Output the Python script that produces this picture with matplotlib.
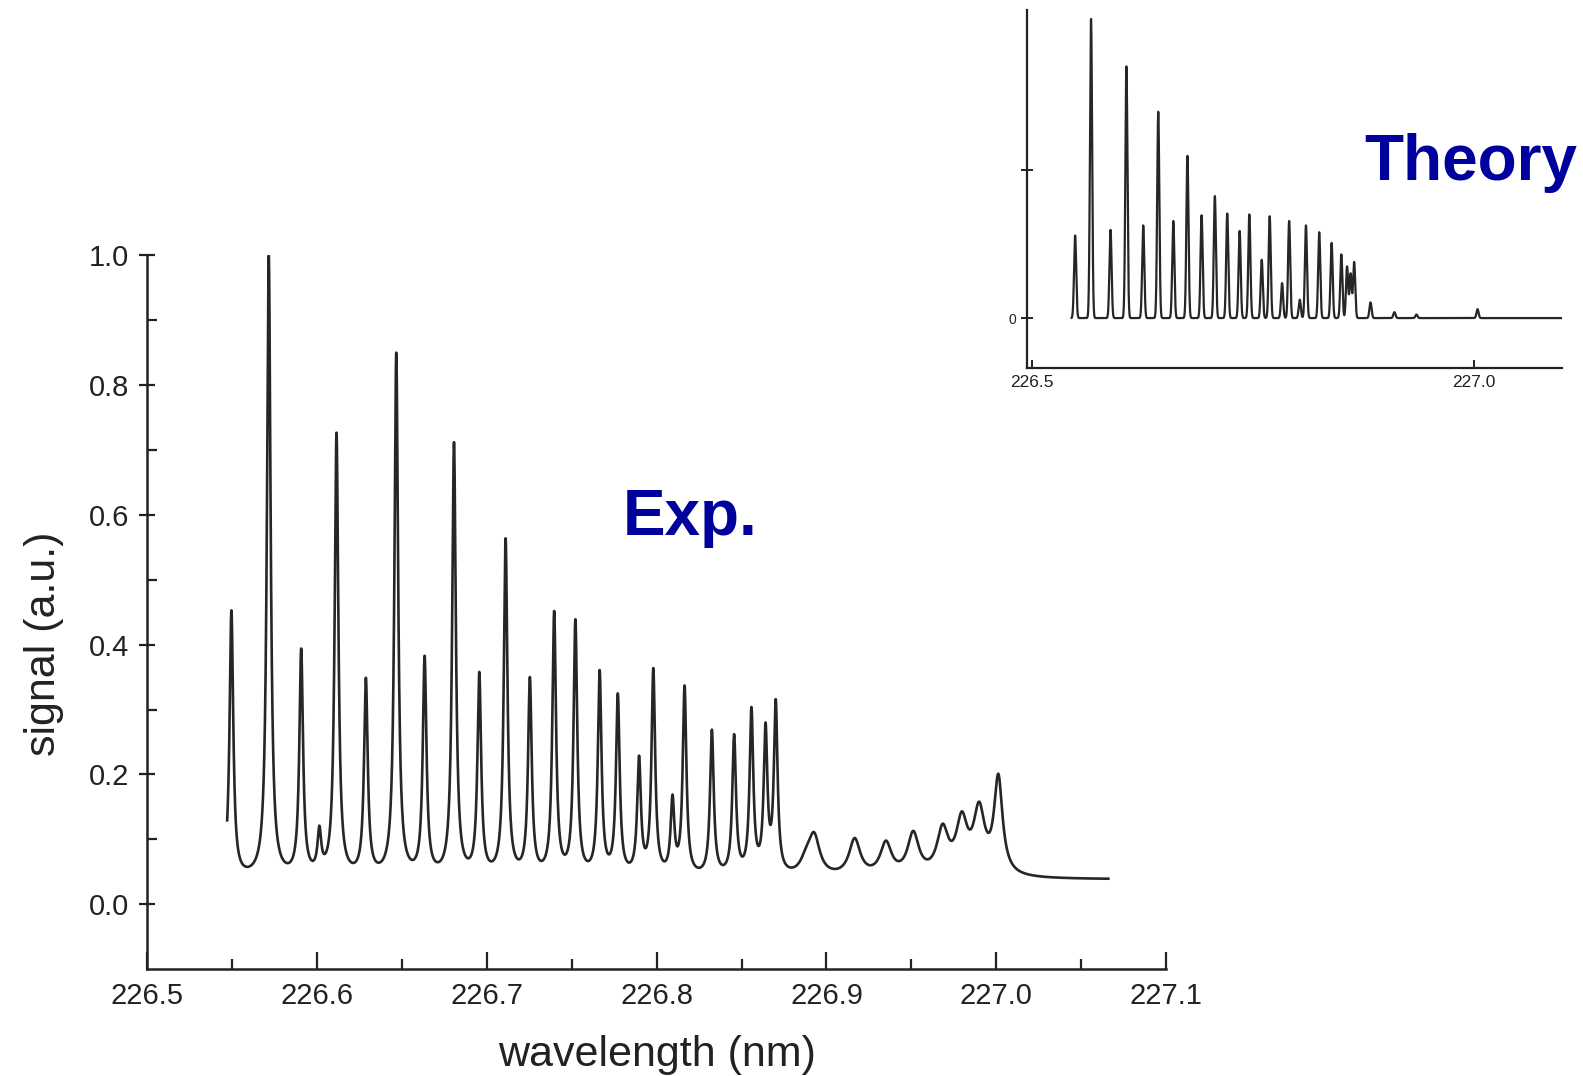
import numpy as np
import matplotlib
matplotlib.use('Agg')
from matplotlib import pyplot as plt
from matplotlib.ticker import MultipleLocator, FixedLocator, FormatStrFormatter

plt.rcParams['font.family'] = ['Liberation Sans', 'DejaVu Sans']

# measured spectrum: line centres (nm) and peak signal (a.u.)
exp_pos = [226.5495, 226.5715, 226.5906, 226.6013, 226.6114, 226.6287, 226.6466,
           226.6633, 226.6806, 226.6955, 226.7110, 226.7253, 226.7396, 226.7521,
           226.7664, 226.7771, 226.7896, 226.7980, 226.8093, 226.8164, 226.8325,
           226.8456, 226.8558, 226.8641, 226.8701, 226.8880, 226.8927, 226.9166,
           226.9350, 226.9511, 226.9684, 226.9797, 226.9899, 227.0012]
exp_peak = [0.453, 1.000, 0.394, 0.121, 0.727, 0.349, 0.850,
            0.383, 0.712, 0.358, 0.564, 0.350, 0.452, 0.439,
            0.361, 0.325, 0.229, 0.364, 0.169, 0.337, 0.269,
            0.262, 0.304, 0.280, 0.316, 0.088, 0.111, 0.102,
            0.098, 0.113, 0.124, 0.143, 0.158, 0.201]
exp_base = 0.038
exp_range = (226.547, 227.066)

# calculated spectrum (inset)
th_pos = [226.549, 226.567, 226.589, 226.607, 226.626, 226.643, 226.660,
          226.676, 226.692, 226.707, 226.721, 226.735, 226.746, 226.760,
          226.769, 226.783, 226.791, 226.803, 226.810, 226.825, 226.839,
          226.850, 226.8565, 226.8605, 226.8645, 226.883, 226.910, 226.935,
          227.004]
th_peak = [0.279, 1.010, 0.298, 0.850, 0.313, 0.697, 0.328,
           0.548, 0.347, 0.412, 0.353, 0.294, 0.350, 0.197,
           0.344, 0.118, 0.328, 0.062, 0.313, 0.290, 0.254,
           0.215, 0.174, 0.150, 0.189, 0.053, 0.020, 0.012,
           0.030]
th_range = (226.545, 227.10)

def lorentz(x, x0, g):
    return 1.0/(1.0 + ((x - x0)/g)**2)

# experimental trace: lorentzian lines, amplitudes solved so peaks hit the read values
pos = np.array(exp_pos)
hw = np.where(pos > 226.88, 0.004, 0.0013)
hw[-1] = 0.003
A = lorentz(pos[:, None], pos[None, :], hw[None, :])
amp = np.linalg.solve(A, np.array(exp_peak) - exp_base)
xe = np.linspace(exp_range[0], exp_range[1], 8000)
ye = exp_base + lorentz(xe[:, None], pos[None, :], hw[None, :]) @ amp

# theory trace: narrow gaussian lines
xt = np.linspace(th_range[0], th_range[1], 8000)
yt = (np.array(th_peak)[None, :] *
      np.exp(-0.5*((xt[:, None] - np.array(th_pos)[None, :])/0.0012)**2)).sum(axis=1)

fig = plt.figure(figsize=(15.83, 10.76), dpi=100)

ax = fig.add_axes([0.0931, 0.0994, 0.6435, 0.6633])
ax.plot(xe, ye, color='#262626', lw=1.9)
ax.set_xlim(226.5, 227.1)
ax.set_ylim(-0.1, 1.0)
ax.spines['right'].set_color('none')
ax.spines['top'].set_color('none')
for s in ('left', 'bottom'):
    ax.spines[s].set_linewidth(1.8)
    ax.spines[s].set_color('#222222')
ax.xaxis.set_major_locator(MultipleLocator(0.1))
ax.xaxis.set_minor_locator(MultipleLocator(0.05))
ax.xaxis.set_major_formatter(FormatStrFormatter('%.1f'))
ax.yaxis.set_major_locator(FixedLocator([0.0, 0.2, 0.4, 0.6, 0.8, 1.0]))
ax.yaxis.set_minor_locator(FixedLocator([0.1, 0.3, 0.5, 0.7, 0.9]))
ax.yaxis.set_major_formatter(FormatStrFormatter('%.1f'))
ax.tick_params(axis='x', which='major', direction='in', length=12, width=1.6,
               labelsize=21, pad=9, colors='#222222')
ax.tick_params(axis='x', which='minor', direction='in', length=7, width=1.6,
               colors='#222222')
ax.tick_params(axis='y', which='major', direction='inout', length=12, width=1.6,
               labelsize=21, pad=7, colors='#222222')
ax.tick_params(axis='y', which='minor', direction='in', length=7, width=1.6,
               colors='#222222')
ax.set_xlabel('wavelength (nm)', fontsize=31, color='#222222', labelpad=18)
ax.set_ylabel('signal (a.u.)', fontsize=31, color='#222222')
ax.yaxis.set_label_coords(-0.082, 0.455)

# inset with the calculation
ax2 = fig.add_axes([0.649, 0.6576, 0.338, 0.333])
ax2.plot(xt, yt, color='#262626', lw=1.6)
ax2.set_xlim(226.495, 227.1)
ax2.set_ylim(-0.17, 1.04)
ax2.spines['right'].set_color('none')
ax2.spines['top'].set_color('none')
for s in ('left', 'bottom'):
    ax2.spines[s].set_linewidth(1.6)
    ax2.spines[s].set_color('#222222')
ax2.set_xticks([226.5, 227.0])
ax2.set_xticklabels(['226.5', '227.0'])
ax2.set_yticks([0.0, 0.5])
ax2.set_yticklabels(['0', ''])
ax2.tick_params(axis='x', direction='in', length=6, width=1.4, labelsize=12.5,
                pad=5, colors='#222222')
ax2.tick_params(axis='y', direction='inout', length=8, width=1.4, labelsize=10,
                pad=4, colors='#222222')

fig.text(0.3935, 0.503, 'Exp.', fontsize=46, fontweight='bold', color='#00009c',
         va='baseline', ha='left')
fig.text(0.862, 0.833, 'Theory', fontsize=46, fontweight='bold', color='#00009c',
         va='baseline', ha='left')

fig.savefig('out.png', dpi=100)
